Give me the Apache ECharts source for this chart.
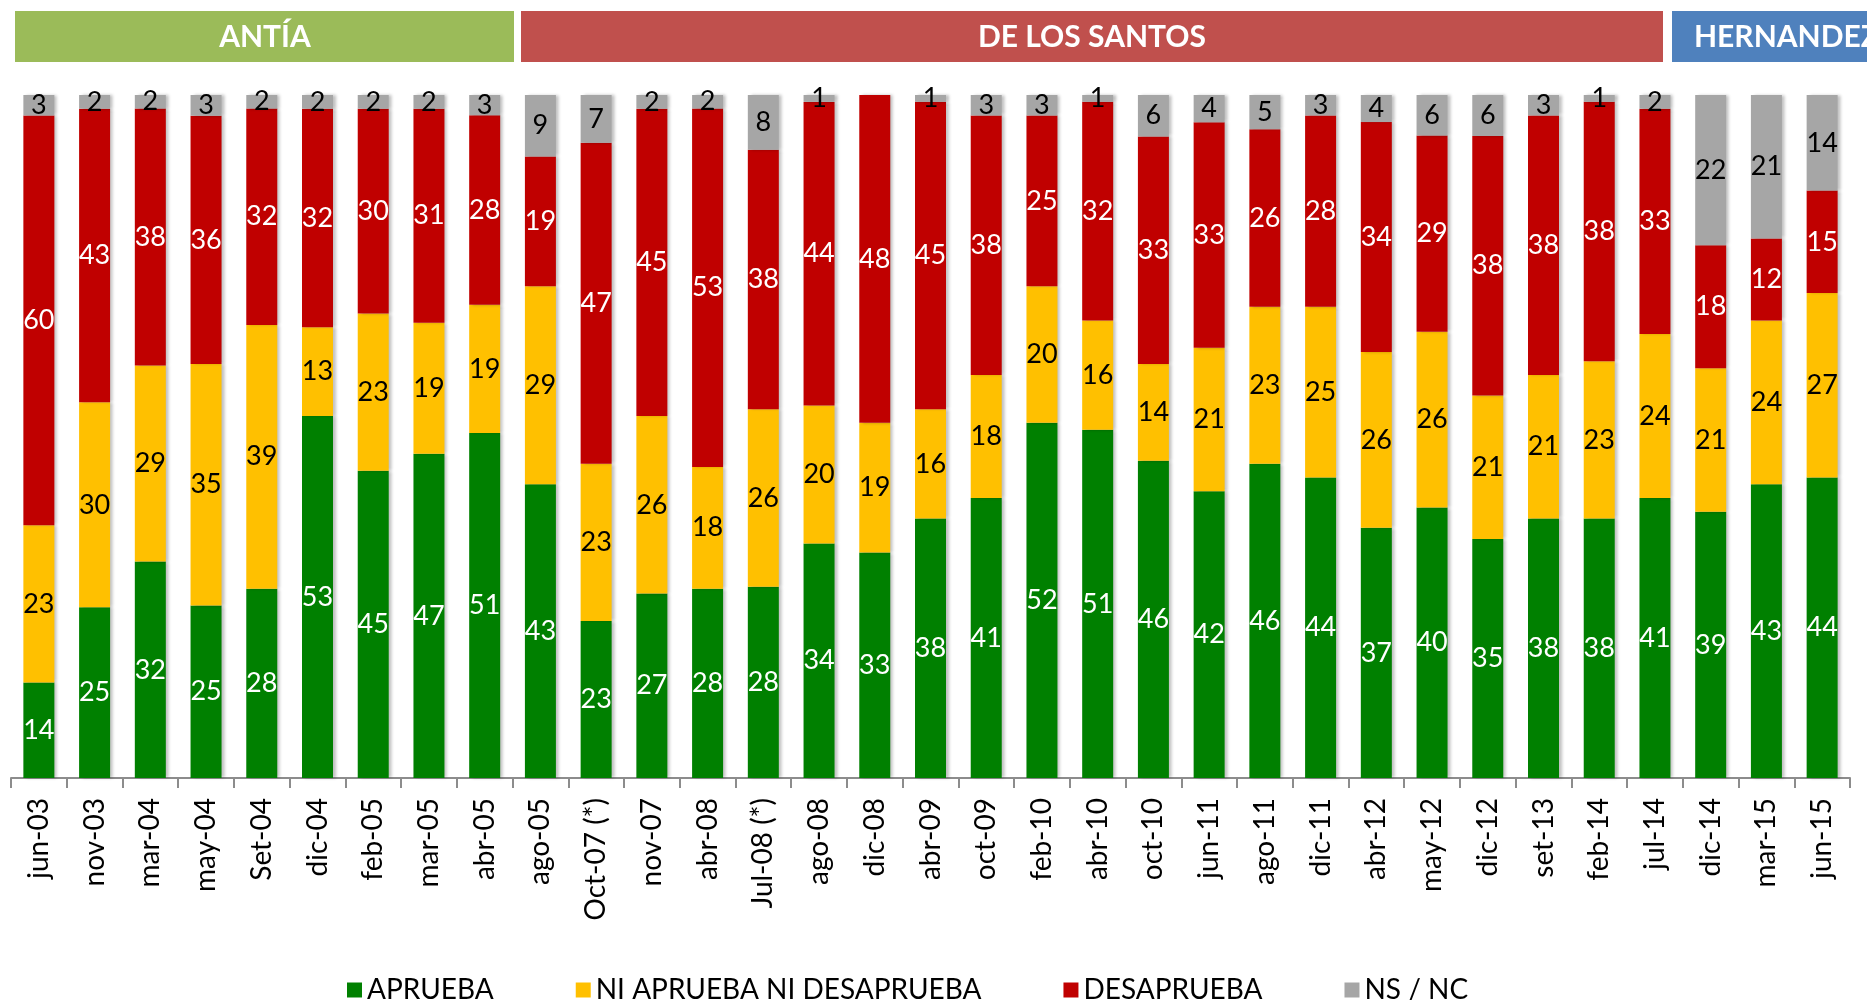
<!DOCTYPE html>
<html>
<head>
<meta charset="UTF-8">
<title>Aprobación</title>
<script src="https://cdn.jsdelivr.net/npm/echarts@6/dist/echarts.min.js"></script>
<style>
  html, body { margin: 0; padding: 0; background: #fff; }
  #chart { width: 1867px; height: 1000px; }
</style>
</head>
<body>
<div id="chart"></div>
<script>
var fechas = ['jun-03','nov-03','mar-04','may-04','Set-04','dic-04','feb-05','mar-05','abr-05',
  'ago-05','Oct-07 (*)','nov-07','abr-08','Jul-08 (*)','ago-08','dic-08','abr-09','oct-09','feb-10',
  'abr-10','oct-10','jun-11','ago-11','dic-11','abr-12','may-12','dic-12','set-13','feb-14','jul-14',
  'dic-14','mar-15','jun-15'];
var aprueba    = [14,25,32,25,28,53,45,47,51, 43,23,27,28,28,34,33,38,41,52,51,46,42,46,44,37,40,35,38,38,41, 39,43,44];
var ni         = [23,30,29,35,39,13,23,19,19, 29,23,26,18,26,20,19,16,18,20,16,14,21,23,25,26,26,21,21,23,24, 21,24,27];
var desaprueba = [60,43,38,36,32,32,30,31,28, 19,47,45,53,38,44,48,45,38,25,32,33,33,26,28,34,29,38,38,38,33, 18,12,15];
var nsnc       = [ 3, 2, 2, 3, 2, 2, 2, 2, 3,  9, 7, 2, 2, 8, 1, 0, 1, 3, 3, 1, 6, 4, 5, 3, 4, 6, 6, 3, 1, 2, 22,21,14];

var FONT = 'Lato';
var chart = echarts.init(document.getElementById('chart'));

// 100% apilado como en Excel: la altura es la parte del total, la etiqueta el valor leído
var totales = fechas.map(function (f, i) {
  return aprueba[i] + ni[i] + desaprueba[i] + nsnc[i];
});

function serie(name, data, color, txt) {
  return {
    name: name,
    type: 'bar',
    stack: 'total',
    barWidth: 31,
    data: data.map(function (v, i) {
      return { value: v * 100 / totales[i], raw: v };
    }),
    itemStyle: {
      color: color,
      shadowColor: 'rgba(0,0,0,0.25)',
      shadowBlur: 3,
      shadowOffsetX: 3
    },
    label: {
      show: true,
      position: 'inside',
      color: txt,
      fontFamily: FONT,
      fontSize: 27,
      formatter: function (p) { return p.data.raw ? String(p.data.raw) : ''; }
    }
  };
}

function cabecera(x, w, color, texto, alinear, tx) {
  return [
    { type: 'rect', shape: { x: x, y: 11, width: w, height: 51 }, style: { fill: color } },
    { type: 'text', x: tx, y: 37, style: {
        text: texto, fill: '#fff', font: 'bold 30px ' + FONT,
        textAlign: alinear, textVerticalAlign: 'middle' } }
  ];
}

var option = {
  animation: false,
  grid: { left: 11, right: 17, top: 95, bottom: 222, containLabel: false },
  xAxis: {
    type: 'category',
    data: fechas,
    axisLine: { lineStyle: { color: '#8c8c8c', width: 2 } },
    axisTick: { show: true, length: 10, interval: 0, lineStyle: { color: '#8c8c8c', width: 2 } },
    axisLabel: { interval: 0, rotate: 90, margin: 20, color: '#000', fontFamily: FONT, fontSize: 28 }
  },
  yAxis: { type: 'value', min: 0, max: 100, show: false, splitLine: { show: false } },
  legend: {
    left: 342,
    top: 971,
    itemGap: 82,
    itemWidth: 15,
    itemHeight: 15,
    icon: 'rect',
    textStyle: { fontFamily: FONT, fontSize: 28, color: '#000' },
    data: ['APRUEBA', 'NI APRUEBA NI DESAPRUEBA', 'DESAPRUEBA', 'NS / NC']
  },
  graphic: [].concat(
    cabecera(15, 499, '#9BBB59', 'ANTÍA', 'center', 265),
    cabecera(521, 1142, '#C0504D', 'DE LOS SANTOS', 'center', 1092),
    cabecera(1672, 260, '#4F81BD', 'HERNANDEZ', 'left', 1694)
  ),
  series: [
    serie('APRUEBA', aprueba, '#008000', '#fff'),
    serie('NI APRUEBA NI DESAPRUEBA', ni, '#FFC000', '#000'),
    serie('DESAPRUEBA', desaprueba, '#C00000', '#fff'),
    serie('NS / NC', nsnc, '#A6A6A6', '#000')
  ]
};
chart.setOption(option);
</script>
</body>
</html>
